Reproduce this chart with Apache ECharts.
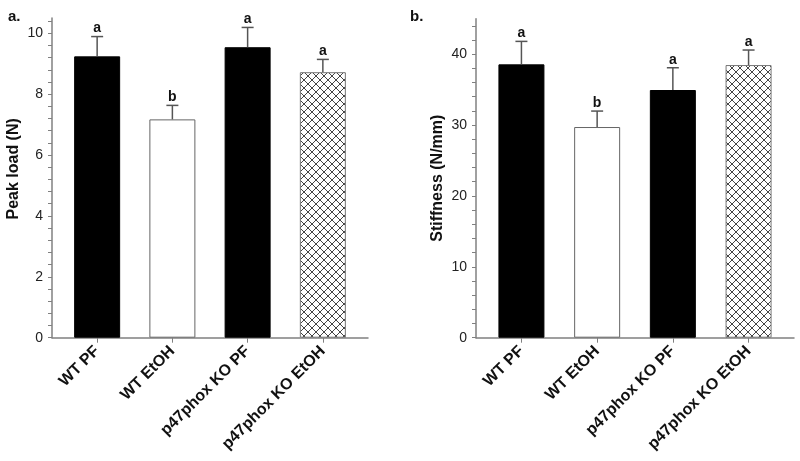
<!DOCTYPE html>
<html><head><meta charset="utf-8">
<script src="https://cdn.jsdelivr.net/npm/echarts@6/dist/echarts.min.js"></script>
<style>html,body{margin:0;padding:0;background:#fff}#c{width:800px;height:461px}</style>
</head><body><div id="c"></div>
<script>
// ---- data ----
const categories = ['WT PF', 'WT EtOH', 'p47phox KO PF', 'p47phox KO EtOH'];
const peakLoad = [9.24, 7.17, 9.54, 8.72];
const peakLoadErr = [0.65, 0.46, 0.65, 0.42];
const peakLoadLetters = ['a', 'b', 'a', 'a'];
const stiffness = [38.56, 29.72, 34.94, 38.46];
const stiffnessErr = [3.24, 2.25, 3.14, 2.12];
const stiffnessLetters = ['a', 'b', 'a', 'a'];
const peakTicks = [0,0.4,0.8,1.2,1.6,2,2.4,2.8,3.2,3.6,4,4.4,4.8,5.2,5.6,6,6.4,6.8,7.2,7.6,8,8.4,8.8,9.2,9.6,10,10.4];
const peakLabels = [0, 2, 4, 6, 8, 10];
const stiffTicks = [0,2,4,6,8,10,12,14,16,18,20,22,24,26,28,30,32,34,36,38,40,42,44];
const stiffLabels = [0, 10, 20, 30, 40];
const catPositions = [0, 1, 2, 3];

// ---- hatch pattern ----
function makeHatch() {
  const s = 8;
  const cv = document.createElement('canvas');
  cv.width = s; cv.height = s;
  const ctx = cv.getContext('2d');
  ctx.fillStyle = '#fff'; ctx.fillRect(0, 0, s, s);
  ctx.strokeStyle = '#444'; ctx.lineWidth = 1;
  ctx.beginPath();
  ctx.moveTo(-1, -1); ctx.lineTo(s + 1, s + 1);
  ctx.moveTo(s + 1, -1); ctx.lineTo(-1, s + 1);
  ctx.stroke();
  return cv;
}
const hatch = makeHatch();

const fills = ['#000', '#fff', '#000', { image: hatch, repeat: 'repeat' }];
const borders = ['#000', '#666', '#000', '#777'];

const FONT = 'Liberation Sans, Arial, Helvetica, sans-serif';
const axisGray = '#808080';

function xAxis(gi) {
  return {
    type: 'value', gridIndex: gi, min: -0.6, max: 3.6,
    axisLine: { show: true, onZero: false, lineStyle: { color: axisGray, width: 1.5 } },
    splitLine: { show: false },
    axisTick: { show: true, customValues: catPositions, length: 5, lineStyle: { color: axisGray } },
    axisLabel: {
      customValues: catPositions, rotate: 45, margin: 11,
      formatter: v => categories[Math.round(v)],
      fontFamily: FONT, fontWeight: 'bold', fontSize: 16, color: '#111'
    }
  };
}
function yAxis(gi, max, ticks, labels, name, pad) {
  return {
    type: 'value', gridIndex: gi, min: 0, max: max,
    name: name, nameLocation: 'middle', nameGap: 30,
    nameTextStyle: { fontFamily: FONT, fontWeight: 'bold', fontSize: 16, color: '#111', padding: pad },
    axisLine: { show: true, onZero: false, lineStyle: { color: axisGray, width: 1.5 } },
    splitLine: { show: false },
    axisTick: { show: true, customValues: ticks, length: 4, lineStyle: { color: axisGray } },
    axisLabel: { customValues: labels, margin: 9, fontFamily: FONT, fontSize: 14, color: '#222' }
  };
}

function barSeries(gi, vals) {
  return {
    type: 'bar', xAxisIndex: gi, yAxisIndex: gi, barWidth: 46,
    data: vals.map((v, i) => ({
      value: [catPositions[i], v],
      itemStyle: { color: fills[i], borderColor: borders[i], borderWidth: 1 }
    })),
    z: 2
  };
}
function errSeries(gi, vals, errs, letters) {
  return {
    type: 'custom', xAxisIndex: gi, yAxisIndex: gi, z: 3,
    data: vals.map((v, i) => [catPositions[i], v, v + errs[i]]),
    renderItem: function (params, api) {
      const base = api.coord([api.value(0), api.value(1)]);
      const top = api.coord([api.value(0), api.value(2)]);
      const letter = letters[params.dataIndex];
      const hw = 6;
      return {
        type: 'group',
        children: [
          { type: 'line', shape: { x1: base[0], y1: base[1], x2: top[0], y2: top[1] }, style: { stroke: '#555', lineWidth: 1.5 } },
          { type: 'line', shape: { x1: top[0] - hw, y1: top[1], x2: top[0] + hw, y2: top[1] }, style: { stroke: '#555', lineWidth: 1.5 } },
          { type: 'text', x: top[0], y: top[1] - 1, style: { text: letter, fontFamily: FONT, fontWeight: 'bold', fontSize: 14, fill: '#111', align: 'center', verticalAlign: 'bottom' } }
        ]
      };
    }
  };
}

const chart = echarts.init(document.getElementById('c'), null, { renderer: 'canvas' });
chart.setOption({
  animation: false,
  backgroundColor: '#fff',
  title: [
    { text: 'a.', left: 3, top: 4, textStyle: { fontFamily: FONT, fontWeight: 'bold', fontSize: 15, color: '#111' } },
    { text: 'b.', left: 405, top: 4, textStyle: { fontFamily: FONT, fontWeight: 'bold', fontSize: 15, color: '#111' } }
  ],
  grid: [
    { left: 52, top: 18, width: 316, height: 319.7 },
    { left: 476, top: 18.7, width: 318, height: 319 }
  ],
  xAxis: [xAxis(0), xAxis(1)],
  yAxis: [
    yAxis(0, 10.5, peakTicks, peakLabels, 'Peak load (N)', [0, 0, 0, 18]),
    yAxis(1, 45, stiffTicks, stiffLabels, 'Stiffness (N/mm)', [0, 0, 0, 0])
  ],
  series: [
    barSeries(0, peakLoad), errSeries(0, peakLoad, peakLoadErr, peakLoadLetters),
    barSeries(1, stiffness), errSeries(1, stiffness, stiffnessErr, stiffnessLetters)
  ]
});
</script></body></html>
